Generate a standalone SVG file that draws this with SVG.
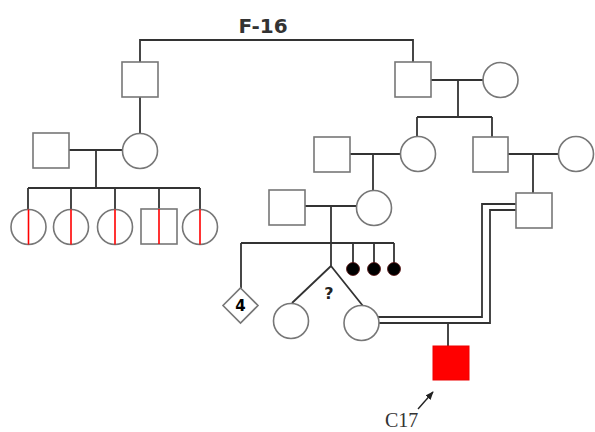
<svg xmlns="http://www.w3.org/2000/svg" width="595" height="432" viewBox="0 0 595 432">
<defs>
<style>
.ln{fill:none;stroke:#333;stroke-width:1.8}
.sh{fill:#fff;stroke:#777;stroke-width:1.6}
.red{stroke:#f00;stroke-width:1.6}
.dot{fill:#000;stroke:#5a1010;stroke-width:0.8}
</style>
<marker id="ah" viewBox="0 0 10 10" refX="9" refY="5" markerWidth="6" markerHeight="6" orient="auto"><path d="M0,1 L10,5 L0,9 z" fill="#222"/></marker>
</defs>
<rect width="595" height="432" fill="#fff"/>
<text x="263" y="33" font-family="DejaVu Sans, sans-serif" font-weight="bold" font-size="20" fill="#333" text-anchor="middle">F-16</text>
<g id="connectors">
<path class="ln" d="M140,62 V40 H413 V62"/>
<path class="ln" d="M140,97 V133"/>
<path class="ln" d="M69,150 H123 M96,150 V188 M28,188 H200 M28,188 V209 M71,188 V209 M115,188 V209 M159,188 V209 M200,188 V209"/>
<path class="ln" d="M431,80 H483 M458,80 V117 M417,117 H492 M417,117 V137 M492,117 V137"/>
<path class="ln" d="M350,154 H401 M373,154 V191"/>
<path class="ln" d="M508,154 H559 M533,154 V193"/>
<path class="ln" d="M305,206 H357 M331,206 V266 M241,243 H394 M241,243 V288 M353,243 V263 M374,243 V263 M394,243 V263"/>
<path class="ln" d="M331,266 L292,303 M331,266 L363,306"/>
<path class="ln" d="M378,317 H482 V204 H516 M378,323 H490 V210 H516"/>
<path class="ln" d="M448,323 V346"/>
<line x1="418" y1="409" x2="433" y2="392" stroke="#222" stroke-width="1.4" marker-end="url(#ah)"/>
</g>
<g id="gen1-left"><rect class="sh" x="122" y="62" width="36" height="35"/></g>
<g id="gen1-right"><rect class="sh" x="395" y="62" width="36" height="35"/></g>
<g id="gen1-right-wife"><circle class="sh" cx="500.5" cy="80" r="17.5"/></g>
<g id="gen2-left-husband"><rect class="sh" x="33" y="133" width="36" height="35"/></g>
<g id="gen2-left-wife"><circle class="sh" cx="140" cy="151" r="17.5"/></g>
<g id="gen3-left-1"><circle class="sh" cx="28.5" cy="227" r="17.5"/><line class="red" x1="28.5" y1="209.5" x2="28.5" y2="244.5"/></g>
<g id="gen3-left-2"><circle class="sh" cx="71" cy="227" r="17.5"/><line class="red" x1="71" y1="209.5" x2="71" y2="244.5"/></g>
<g id="gen3-left-3"><circle class="sh" cx="115" cy="227" r="17.5"/><line class="red" x1="115" y1="209.5" x2="115" y2="244.5"/></g>
<g id="gen3-left-4"><rect class="sh" x="141" y="209" width="36" height="35"/><line class="red" x1="159" y1="209" x2="159" y2="244"/></g>
<g id="gen3-left-5"><circle class="sh" cx="200" cy="227" r="17.5"/><line class="red" x1="200" y1="209.5" x2="200" y2="244.5" stroke-width="2.4"/></g>
<g id="gen2-husband"><rect class="sh" x="314" y="137" width="36" height="35"/></g>
<g id="gen2-daughter"><circle class="sh" cx="418" cy="154" r="17.5"/></g>
<g id="gen2-son"><rect class="sh" x="473" y="137" width="35" height="35"/></g>
<g id="gen2-son-wife"><circle class="sh" cx="576" cy="154" r="17.5"/></g>
<g id="gen3-husband"><rect class="sh" x="269" y="190" width="36" height="35"/></g>
<g id="gen3-wife"><circle class="sh" cx="374" cy="208" r="17.5"/></g>
<g id="gen3-son"><rect class="sh" x="516" y="193" width="36" height="35"/></g>
<g id="diamond4"><path class="sh" d="M240.5,288 L258,305.5 L240.5,323 L223,305.5 Z" stroke="#333"/><text x="240.5" y="311" font-family="DejaVu Sans, sans-serif" font-weight="bold" font-size="15" text-anchor="middle" fill="#000">4</text></g>
<g id="miscarriage-1"><circle class="dot" cx="353" cy="269" r="6.5"/></g>
<g id="miscarriage-2"><circle class="dot" cx="374" cy="269" r="6.5"/></g>
<g id="miscarriage-3"><circle class="dot" cx="394" cy="269" r="6.5"/></g>
<g id="twin-left"><circle class="sh" cx="291" cy="321" r="17.5"/></g>
<g id="twin-right"><circle class="sh" cx="361.5" cy="323" r="17.5"/></g>
<text x="329" y="299" font-family="DejaVu Sans, sans-serif" font-weight="bold" font-size="16" text-anchor="middle" fill="#222">?</text>
<g id="proband-C17"><rect x="433" y="346" width="36" height="34" fill="#f00" stroke="#e00" stroke-width="1"/></g>
<text x="385" y="427" font-family="Liberation Serif, serif" font-size="20" fill="#333">C17</text>
</svg>
